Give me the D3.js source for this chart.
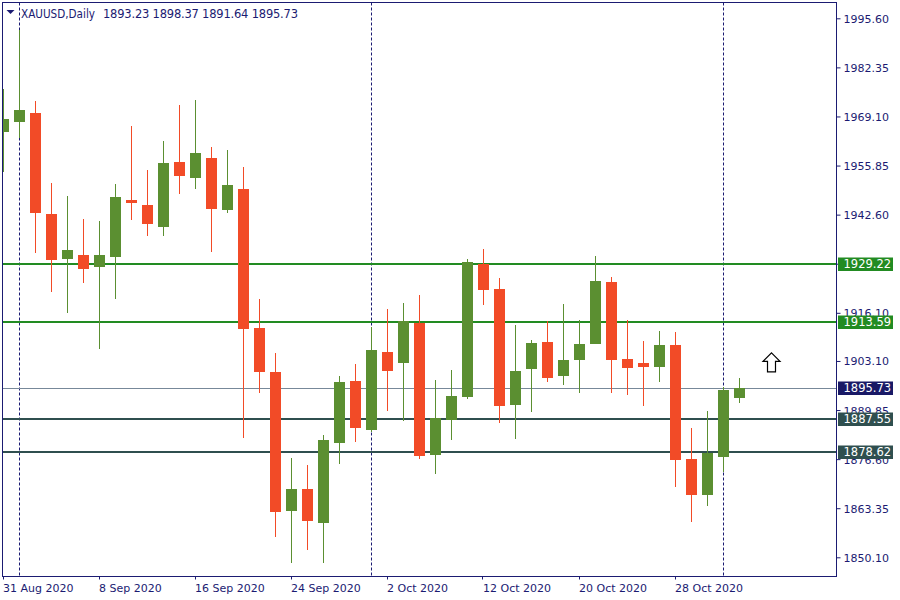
<!DOCTYPE html>
<html><head><meta charset="utf-8">
<script src="https://cdn.jsdelivr.net/npm/d3@7"></script>
<style>
body{margin:0;background:#fff;}
svg{display:block;}
text{font-family:"DejaVu Sans",Tahoma,Verdana,sans-serif;}
</style>
</head><body>
<svg id="chart" width="900" height="600"></svg>
<script>
// ---------- DATA ----------
const dates = [
  "2020-08-31","2020-09-01","2020-09-02","2020-09-03","2020-09-04",
  "2020-09-07","2020-09-08","2020-09-09","2020-09-10","2020-09-11",
  "2020-09-14","2020-09-15","2020-09-16","2020-09-17","2020-09-18",
  "2020-09-21","2020-09-22","2020-09-23","2020-09-24","2020-09-25",
  "2020-09-28","2020-09-29","2020-09-30","2020-10-01","2020-10-02",
  "2020-10-05","2020-10-06","2020-10-07","2020-10-08","2020-10-09",
  "2020-10-12","2020-10-13","2020-10-14","2020-10-15","2020-10-16",
  "2020-10-19","2020-10-20","2020-10-21","2020-10-22","2020-10-23",
  "2020-10-26","2020-10-27","2020-10-28","2020-10-29","2020-10-30",
  "2020-11-02","2020-11-03"
];
const openP = [
  1964.99,1967.69,1970.04,1942.77,1930.71,
  1931.71,1928.55,1931.25,1946.55,1945.20,
  1939.34,1956.81,1952.57,1957.89,1943.93,
  1949.52,1912.00,1900.12,1862.68,1868.54,
  1859.44,1881.04,1897.69,1884.55,1905.52,
  1902.63,1913.35,1877.80,1887.25,1893.45,
  1929.28,1922.53,1891.29,1901.01,1908.22,
  1899.12,1903.44,1907.76,1924.42,1903.63,
  1902.55,1901.55,1907.41,1876.64,1867.00,
  1877.26,1893.23
];
const highP = [
  1976.51,1992.44,1973.36,1951.22,1947.63,
  1941.42,1940.96,1950.87,1966.53,1954.65,
  1962.48,1972.20,1973.55,1960.86,1960.05,
  1955.54,1919.83,1905.25,1876.91,1875.02,
  1883.12,1899.04,1902.28,1912.35,1917.13,
  1918.75,1920.91,1897.96,1900.66,1930.63,
  1933.32,1925.50,1912.81,1908.76,1913.89,
  1918.48,1914.16,1931.44,1925.77,1914.16,
  1908.57,1911.27,1911.00,1885.01,1889.68,
  1896.15,1898.37
];
const lowP = [
  1954.19,1963.21,1932.33,1921.80,1916.13,
  1924.23,1906.41,1919.83,1941.15,1936.83,
  1936.83,1948.25,1949.60,1932.60,1943.12,
  1882.39,1894.53,1855.66,1848.64,1852.07,
  1848.64,1875.37,1881.31,1884.00,1889.68,
  1886.98,1876.72,1872.67,1881.85,1892.91,
  1918.29,1886.44,1882.12,1889.41,1897.50,
  1896.69,1894.53,1907.60,1894.53,1893.99,
  1891.02,1897.50,1869.16,1859.71,1864.03,
  1873.05,1891.64
];
const closeP = [
  1968.42,1970.85,1943.12,1930.44,1933.06,
  1928.01,1931.71,1947.36,1945.82,1940.15,
  1956.54,1953.11,1959.24,1944.20,1950.60,
  1911.81,1900.20,1862.41,1868.54,1859.98,
  1881.77,1897.42,1885.09,1906.06,1900.47,
  1913.81,1877.53,1887.71,1893.64,1929.82,
  1922.34,1891.02,1900.39,1907.95,1898.58,
  1903.36,1907.68,1924.69,1903.44,1901.28,
  1901.55,1907.41,1876.45,1867.00,1878.26,
  1895.26,1895.73
];
const tickDates = ["2020-08-31","2020-09-08","2020-09-16","2020-09-24","2020-10-02","2020-10-12","2020-10-20","2020-10-28"];
const tickLabels = ["31 Aug 2020","8 Sep 2020","16 Sep 2020","24 Sep 2020","2 Oct 2020","12 Oct 2020","20 Oct 2020","28 Oct 2020"];
const priceTicks = [1995.60,1982.35,1969.10,1955.85,1942.60,1929.35,1916.10,1903.10,1889.85,1876.60,1863.35,1850.10];
const separatorDates = ["2020-09-01","2020-10-01","2020-11-02"];
const resistanceLevels = [1929.22,1913.59];
const supportLevels = [1887.55,1878.62];
const bidPrice = 1895.73;
const headerSymbol = "XAUUSD,Daily";
const headerOHLC = [1893.23,1898.37,1891.64,1895.73];
const arrowBarsAhead = 2;     // arrow placed two bars after the last candle
const arrowPrice = 1905.3;

// ---------- STYLE ----------
const NAVY = "#1b1b72", UP = "#5b8f31", DOWN = "#f24b27";
const GREEN_LINE = "#228b22", SLATE = "#2f4f4f", BID = "#778899", BID_BOX = "#191966";

const svg = d3.select("#chart");
const L = 2.5, T = 2.5, R = 836.5, B = 576.5;

const x = d3.scaleLinear().domain([0, 52]).range([3.5, 835.5]);
const y = d3.scaleLinear().domain([1850.10, 1995.60]).range([557.3, 18.3]);
const idx = d => dates.indexOf(d);

svg.append("defs").append("clipPath").attr("id","plot")
  .append("rect").attr("x", L+0.5).attr("y", T+0.5).attr("width", R-L-1).attr("height", B-T-1);

const plot = svg.append("g").attr("clip-path","url(#plot)");

// period separators
plot.selectAll("line.sep").data(separatorDates).join("line")
  .attr("x1", d => x(idx(d))).attr("x2", d => x(idx(d)))
  .attr("y1", T).attr("y2", B)
  .attr("stroke", NAVY).attr("stroke-width",1).attr("stroke-dasharray","3,2");

// horizontal levels
const lineY = v => Math.round(y(v));
plot.append("line").attr("x1",L).attr("x2",R).attr("y1",lineY(bidPrice)+0.5).attr("y2",lineY(bidPrice)+0.5)
  .attr("stroke",BID).attr("stroke-width",1);
plot.selectAll("line.res").data(resistanceLevels).join("line")
  .attr("x1",L).attr("x2",R).attr("y1",d=>lineY(d)).attr("y2",d=>lineY(d))
  .attr("stroke",GREEN_LINE).attr("stroke-width",2);
plot.selectAll("line.sup").data(supportLevels).join("line")
  .attr("x1",L).attr("x2",R).attr("y1",d=>lineY(d)).attr("y2",d=>lineY(d))
  .attr("stroke",SLATE).attr("stroke-width",2);

// candles
const candles = dates.map((d,i)=>({i, o:openP[i], h:highP[i], l:lowP[i], c:closeP[i]}));
const cg = plot.selectAll("g.candle").data(candles).join("g");
cg.append("line")
  .attr("x1", d => x(d.i)).attr("x2", d => x(d.i))
  .attr("y1", d => Math.round(y(d.h))).attr("y2", d => Math.round(y(d.l)))
  .attr("stroke", d => d.c >= d.o ? UP : DOWN).attr("stroke-width",1);
cg.append("rect")
  .attr("x", d => x(d.i) - 5.5).attr("width", 11)
  .attr("y", d => Math.round(y(Math.max(d.o,d.c))))
  .attr("height", d => Math.max(2, Math.round(y(Math.min(d.o,d.c))) - Math.round(y(Math.max(d.o,d.c)))))
  .attr("fill", d => d.c >= d.o ? UP : DOWN);

// arrow object
const ax = x(dates.length - 1 + arrowBarsAhead), ay = y(arrowPrice);
plot.append("path")
  .attr("d", `M${ax},${ay} L${ax+8.5},${ay+8.5} L${ax+4},${ay+8.5} L${ax+4},${ay+19} L${ax-4},${ay+19} L${ax-4},${ay+8.5} L${ax-8.5},${ay+8.5} Z`)
  .attr("fill","#fff").attr("stroke","#000").attr("stroke-width",1.2);

// frame
svg.append("rect").attr("x",L).attr("y",T).attr("width",R-L).attr("height",B-T)
  .attr("fill","none").attr("stroke",NAVY).attr("stroke-width",1);

// right price axis
const yAxis = d3.axisRight(y).tickValues(priceTicks).tickFormat(d3.format(".2f")).tickSize(4).tickPadding(3);
const ya = svg.append("g").attr("transform",`translate(${R},0)`).call(yAxis);
ya.select(".domain").remove();
ya.selectAll("line").attr("stroke",NAVY);
ya.selectAll("text").attr("fill",NAVY).style("font-size","11px").attr("dy","0.36em");

// bottom time axis
const xa = svg.append("g");
xa.selectAll("line").data(tickDates).join("line")
  .attr("x1", d => Math.round(x(idx(d)))-0.5).attr("x2", d => Math.round(x(idx(d)))-0.5)
  .attr("y1", B).attr("y2", B+3).attr("stroke", NAVY);
xa.selectAll("text").data(tickDates).join("text")
  .attr("x", d => x(idx(d)) - 0.5).attr("y", 592)
  .attr("fill", NAVY).style("font-size","11px")
  .text((d,i) => tickLabels[i]);

// price labels on the axis
const boxes = [
  ...resistanceLevels.map(v=>({v, fill:GREEN_LINE})),
  ...supportLevels.map(v=>({v, fill:SLATE})),
  {v:bidPrice, fill:BID_BOX}
];
const bg = svg.selectAll("g.lbl").data(boxes).join("g");
bg.append("rect").attr("x",838).attr("width",55)
  .attr("y", d => lineY(d.v) - 6.5).attr("height",13.5).attr("fill", d=>d.fill);
bg.append("text").attr("x",843.5).attr("y", d => lineY(d.v)).attr("dy","0.36em")
  .attr("fill","#fff").style("font-size","11.5px").text(d => d3.format(".2f")(d.v));

// header
svg.append("path").attr("d","M6.5,10 L14.5,10 L10.5,14 Z").attr("fill",NAVY);
svg.append("text").attr("x",21).attr("y",17.5).attr("fill",NAVY).style("font-size","11.5px")
  .attr("textLength",74).attr("lengthAdjust","spacingAndGlyphs")
  .text(headerSymbol);
svg.append("text").attr("x",103).attr("y",17.5).attr("fill",NAVY).style("font-size","11.5px")
  .attr("textLength",195).attr("lengthAdjust","spacing")
  .text(headerOHLC.map(d3.format(".2f")).join(" "));
</script>
</body></html>
